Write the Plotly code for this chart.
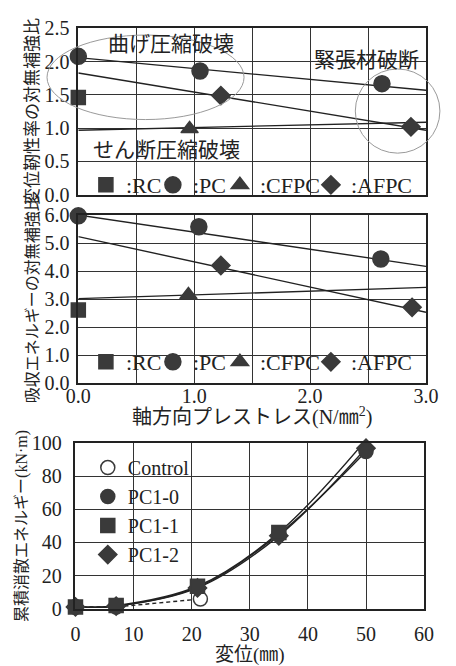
import plotly.graph_objects as go

# ---------------- data ----------------
# Panel 1: 変位靭性率の対無補強比 vs 軸方向プレストレス
pc_x_top = [0.0, 1.05, 2.62]
pc_y_top = [2.08, 1.86, 1.67]
rc_x_top = [0.0]
rc_y_top = [1.46]
cfpc_x_top = [0.96, 3.05]
cfpc_y_top = [0.99, 1.07]
afpc_x_top = [1.23, 2.87]
afpc_y_top = [1.49, 1.02]
trend_x = [0.0, 3.0]
trend_pc_top = [2.06, 1.57]
trend_cfpc_top = [0.97, 1.09]
trend_afpc_top = [1.83, 0.97]

# Panel 2: 吸収エネルギーの対無補強比
pc_x_mid = [0.0, 1.04, 2.61]
pc_y_mid = [5.97, 5.58, 4.43]
rc_x_mid = [0.0]
rc_y_mid = [2.61]
cfpc_x_mid = [0.95, 3.04]
cfpc_y_mid = [3.15, 3.42]
afpc_x_mid = [1.23, 2.88]
afpc_y_mid = [4.2, 2.71]
trend_pc_mid = [6.0, 4.17]
trend_cfpc_mid = [3.02, 3.42]
trend_afpc_mid = [5.23, 2.53]

# Panel 3: 累積消散エネルギー vs 変位
disp_control = [0, 7, 21.5]
cum_control = [1, 1, 5.8]
disp_pc = [0, 7, 21, 35, 50]
cum_pc1_0 = [1, 1.5, 13, 45, 95]
cum_pc1_1 = [1, 1.8, 13.5, 46, 102]
cum_pc1_2 = [1, 1.5, 12.5, 44, 97]

# failure-mode regions (top panel data units)
ellipse_bending = dict(x0=-0.27, x1=1.43, y0=1.13, y1=2.40)
ellipse_tendon = dict(x0=2.39, x1=3.12, y0=0.625, y1=1.89)

# ---------------- style ----------------
W, H = 456, 666
SERIF = "Liberation Serif"
MIXED = "Liberation Serif, Noto Sans CJK JP"
CJK = "Noto Sans CJK JP"
INK = "#222222"
MK = "#3a3a3a"

dom_x12 = [70 / W, 437 / W]
dom_y_top = [1 - 190 / H, 1 - 18 / H]
dom_y_mid = [1 - 385 / H, 1 - 211 / H]
dom_x_bot = [67 / W, 435 / W]
dom_y_bot = [1 - 618 / H, 1 - 447 / H]

fig = go.Figure()


def markers(x, y, name, symbol, size, xa, ya, legend, fill=MK, rank=None):
    fig.add_trace(go.Scatter(
        x=x, y=y, mode="markers", name=name, xaxis=xa, yaxis=ya,
        legend=legend, cliponaxis=False, legendrank=rank or 1000,
        marker=dict(symbol=symbol, size=size, color=fill,
                    line=dict(color=MK, width=1.5)),
    ))


def line(x, y, xa, ya, dash="solid", shape="linear"):
    fig.add_trace(go.Scatter(
        x=x, y=y, mode="lines", showlegend=False, xaxis=xa, yaxis=ya,
        line=dict(color=INK, width=1.4, dash=dash, shape=shape, smoothing=1.0),
        hoverinfo="skip",
    ))


# top panel
line(trend_x, trend_pc_top, "x", "y")
line(trend_x, trend_afpc_top, "x", "y")
line(trend_x, trend_cfpc_top, "x", "y")
markers(rc_x_top, rc_y_top, ":RC", "square", 14, "x", "y", "legend")
markers(pc_x_top, pc_y_top, ":PC", "circle", 16, "x", "y", "legend")
markers(cfpc_x_top, cfpc_y_top, ":CFPC", "triangle-up", 15, "x", "y", "legend")
markers(afpc_x_top, afpc_y_top, ":AFPC", "diamond", 14, "x", "y", "legend")

# middle panel
line(trend_x, trend_pc_mid, "x2", "y2")
line(trend_x, trend_afpc_mid, "x2", "y2")
line(trend_x, trend_cfpc_mid, "x2", "y2")
markers(rc_x_mid, rc_y_mid, ":RC", "square", 14, "x2", "y2", "legend2")
markers(pc_x_mid, pc_y_mid, ":PC", "circle", 16, "x2", "y2", "legend2")
markers(cfpc_x_mid, cfpc_y_mid, ":CFPC", "triangle-up", 15, "x2", "y2", "legend2")
markers(afpc_x_mid, afpc_y_mid, ":AFPC", "diamond", 14, "x2", "y2", "legend2")

# bottom panel
line(disp_control, cum_control, "x3", "y3", dash="4px,3px")
line(disp_pc, cum_pc1_0, "x3", "y3", shape="spline")
line(disp_pc, cum_pc1_2, "x3", "y3", shape="spline")
line(disp_pc, cum_pc1_1, "x3", "y3", shape="spline")
markers(disp_control, cum_control, "Control", "circle", 14, "x3", "y3", "legend3", fill="white", rank=1)
markers(disp_pc, cum_pc1_2, "PC1-2", "diamond", 14, "x3", "y3", "legend3", rank=4)
markers(disp_pc, cum_pc1_0, "PC1-0", "circle", 14, "x3", "y3", "legend3", rank=2)
markers(disp_pc, cum_pc1_1, "PC1-1", "square", 14, "x3", "y3", "legend3", rank=3)

# legend entry widths for the horizontal legends
for tr in fig.data:
    if tr.legend in ("legend", "legend2"):
        tr.legendwidth = {":RC": 22, ":PC": 22, ":CFPC": 46, ":AFPC": 60}[tr.name]

axis_common = dict(
    showline=True, mirror=True, linecolor=INK, linewidth=1.5,
    showgrid=True, gridcolor="#333333", gridwidth=1, zeroline=False,
    ticks="", tickfont=dict(family=SERIF, size=20, color=INK),
)

fig.update_layout(
    width=W, height=H, margin=dict(l=0, r=0, t=0, b=0),
    paper_bgcolor="white", plot_bgcolor="white",
    font=dict(family=MIXED, color=INK),
    xaxis=dict(axis_common, domain=dom_x12, range=[0, 3], dtick=0.5,
               showticklabels=False, anchor="y"),
    yaxis=dict(axis_common, domain=dom_y_top, range=[0, 2.5], dtick=0.5,
               tickformat=".1f", anchor="x", ticklabelstandoff=3,
               title=dict(text="変位靭性率の対無補強比", standoff=2,
                          font=dict(family=CJK, size=17, color=INK))),
    xaxis2=dict(axis_common, domain=dom_x12, range=[0, 3], dtick=1,
                tickformat=".1f", anchor="y2", ticklabelstandoff=-6,
                minor=dict(dtick=0.5, showgrid=True, gridcolor="#333333", gridwidth=1)),
    yaxis2=dict(axis_common, domain=dom_y_mid, range=[0, 6], dtick=1,
                tickformat=".1f", anchor="x2", ticklabelstandoff=3,
                title=dict(text="吸収エネルギーの対無補強比", standoff=2,
                           font=dict(family=CJK, size=16, color=INK))),
    xaxis3=dict(axis_common, domain=dom_x_bot, range=[0, 60], dtick=10,
                anchor="y3", ticklabelstandoff=7,
                title=dict(text="変位(㎜)", standoff=0,
                           font=dict(family=MIXED, size=19, color=INK))),
    yaxis3=dict(axis_common, domain=dom_y_bot, range=[0, 100], dtick=20,
                anchor="x3", ticklabelstandoff=8,
                title=dict(text="累積消散エネルギー(kN·m)", standoff=0,
                           font=dict(family=MIXED, size=16, color=INK))),
    legend=dict(orientation="h", x=78 / W, xanchor="left", y=1 - 180 / H,
                yanchor="middle", bgcolor="rgba(0,0,0,0)",
                font=dict(family=SERIF, size=22, color=INK)),
    legend2=dict(orientation="h", x=78 / W, xanchor="left", y=1 - 363 / H,
                 yanchor="middle", bgcolor="rgba(0,0,0,0)",
                 font=dict(family=SERIF, size=22, color=INK)),
    legend3=dict(orientation="v", x=80 / W, xanchor="left", y=1 - 452 / H,
                 yanchor="top", bgcolor="rgba(0,0,0,0)", traceorder="normal",
                 font=dict(family=SERIF, size=20, color=INK)),
    showlegend=True,
)

# middle panel x-axis title (sits close under its tick labels, as in the source)
fig.add_annotation(x=0.5 * (dom_x12[0] + dom_x12[1]), y=1 - 419 / H, xref="paper", yref="paper",
                   text="軸方向プレストレス(N/㎜<sup>2</sup>)", showarrow=False,
                   font=dict(family=MIXED, size=20, color=INK))

# failure-mode labels
notes = [("曲げ圧縮破壊", 0.80, 2.30), ("緊張材破断", 2.49, 2.06), ("せん断圧縮破壊", 0.76, 0.70)]
for txt, x, y in notes:
    fig.add_annotation(x=x, y=y, xref="x", yref="y", text=txt, showarrow=False,
                       font=dict(family=CJK, size=21, color=INK))


def to_paper_x(v):
    return dom_x12[0] + v / 3.0 * (dom_x12[1] - dom_x12[0])


def to_paper_y(v):
    return dom_y_top[0] + v / 2.5 * (dom_y_top[1] - dom_y_top[0])


for e in (ellipse_bending, ellipse_tendon):
    fig.add_shape(type="circle", xref="paper", yref="paper", layer="above",
                  x0=to_paper_x(e["x0"]), x1=to_paper_x(e["x1"]),
                  y0=to_paper_y(e["y0"]), y1=to_paper_y(e["y1"]),
                  line=dict(color="#9a9a9a", width=1))

fig.write_html("out.html")
